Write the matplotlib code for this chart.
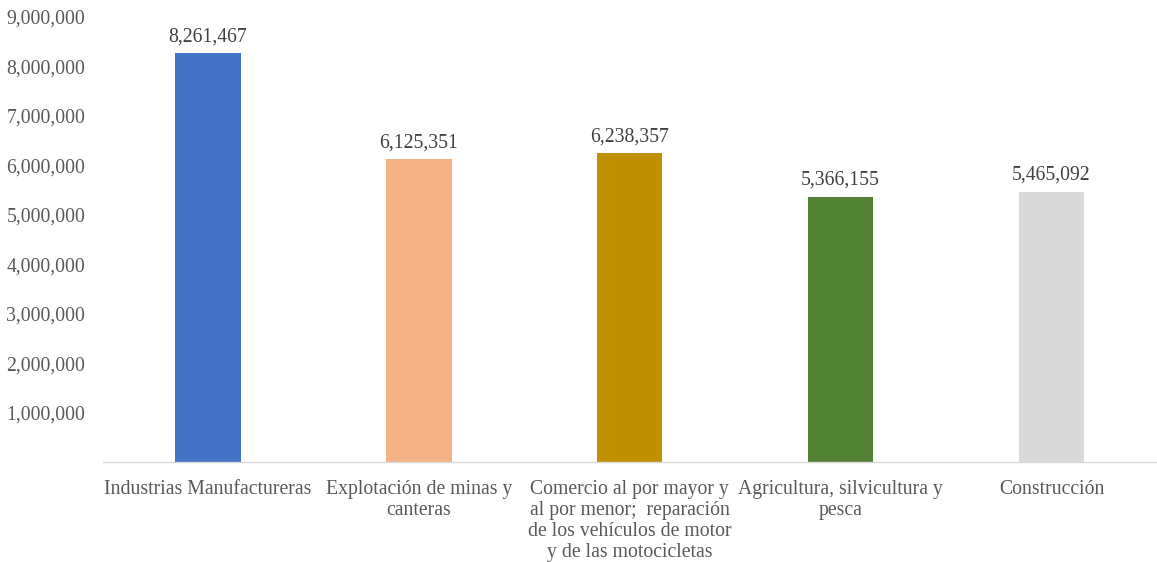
import matplotlib
matplotlib.use("Agg")
import matplotlib.pyplot as plt
from matplotlib.ticker import FixedLocator, FuncFormatter

categories = ["Industrias Manufactureras",
              "Explotación de minas y\ncanteras",
              "Comercio al por mayor y\nal por menor;  reparación\nde los vehículos de motor\ny de las motocicletas",
              "Agricultura, silvicultura y\npesca",
              "Construcción"]
values = [8261467, 6125351, 6238357, 5366155, 5465092]
colors = ["#4472C4", "#F4B183", "#BF9000", "#548235", "#D9D9D9"]
yticks = [1000000, 2000000, 3000000, 4000000, 5000000, 6000000, 7000000, 8000000, 9000000]

plt.rcParams['font.family'] = ['Liberation Serif', 'DejaVu Serif']
txt = "#595959"
fs = 14.2

fig = plt.figure(figsize=(11.57, 5.62), dpi=100)
ax = fig.add_axes([0.0886, 0.178, 0.9114, 0.792])
x = list(range(len(categories)))
bars = ax.bar(x, values, width=0.31, color=colors)
ax.set_xlim(-0.5, len(categories) - 0.5)
ax.set_ylim(0, 9000000)
for xi, v in zip(x, values):
    ax.annotate(f"{v:,}", (xi, v), xytext=(0, 5), textcoords="offset points",
                ha="center", va="bottom", fontsize=fs, color="#404040")
ax.yaxis.set_major_locator(FixedLocator(yticks))
ax.yaxis.set_major_formatter(FuncFormatter(lambda v, p: f"{int(v):,}"))
ax.set_xticks(x)
ax.set_xticklabels(categories, fontsize=fs, color=txt, linespacing=1.14, va="top")
ax.tick_params(axis="y", length=0, pad=12.5, labelsize=fs, labelcolor=txt)
ax.tick_params(axis="x", length=0, pad=13)
for s in ["top", "right", "left"]:
    ax.spines[s].set_visible(False)
ax.spines["bottom"].set_color("#D9D9D9")
ax.spines["bottom"].set_linewidth(1.0)
fig.savefig("out.png", dpi=100)
